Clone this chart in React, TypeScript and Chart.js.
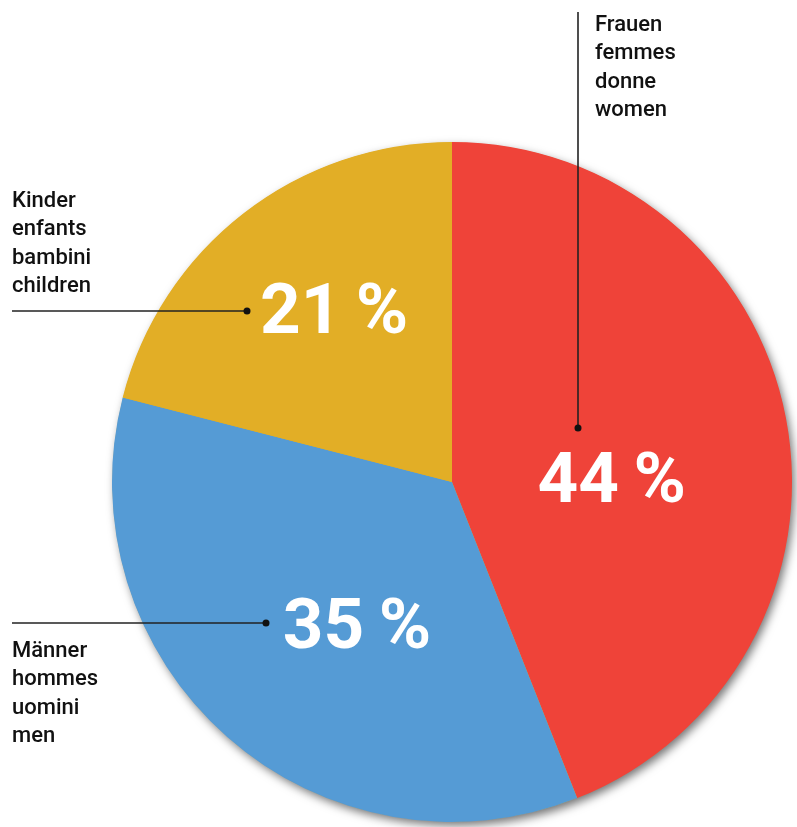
import React, { useEffect, useRef } from "react";
import { Chart, registerables } from "chart.js";
Chart.register(...registerables);

const categories = ["Frauen", "Männer", "Kinder"];
const values = [44, 35, 21];
const percentLabels = ["44\u2009%", "35\u2009%", "21\u2009%"];
const captions = [
  ["Frauen", "femmes", "donne", "women"],
  ["Männer", "hommes", "uomini", "men"],
  ["Kinder", "enfants", "bambini", "children"],
];
const colors = ["#EF4339", "#559BD5", "#E2AE26"];

// label placement: angle (deg clockwise from top) and radius fraction
const labelPolar = [
  [88, 0.47],
  [214, 0.5],
  [326, 0.62],
];

// leader lines: dot offset from pie centre, line end point, caption anchor
const leaders = [
  { dot: [126, -54], end: [126, -470], text: [143, -451] },
  { dot: [-186, 141], end: [-440, 141], text: [-440, 175] },
  { dot: [-205, -171], end: [-440, -171], text: [-440, -275] },
];

const LABEL_FONT = "Roboto, 'DejaVu Sans', sans-serif";

const overlayPlugin = {
  id: "overlay",
  beforeDatasetsDraw(chart: any) {
    const meta = chart.getDatasetMeta(0);
    const arc = meta.data[0];
    if (!arc) return;
    const { x, y, outerRadius } = arc.getProps(["x", "y", "outerRadius"], true);
    const ctx = chart.ctx;
    ctx.save();
    ctx.shadowColor = "rgba(0,0,0,0.55)";
    ctx.shadowBlur = 10;
    ctx.shadowOffsetX = 3;
    ctx.shadowOffsetY = 4;
    ctx.fillStyle = "#E2AE26";
    ctx.beginPath();
    ctx.arc(x, y, outerRadius - 0.5, 0, Math.PI * 2);
    ctx.fill();
    ctx.restore();
  },
  afterDatasetsDraw(chart: any) {
    const meta = chart.getDatasetMeta(0);
    const ctx = chart.ctx;
    const arc0 = meta.data[0];
    if (!arc0) return;
    const { x: cx, y: cy, outerRadius: R } = arc0.getProps(["x", "y", "outerRadius"], true);

    // percentage labels
    const size = 71;
    ctx.save();
    ctx.fillStyle = "#ffffff";
    ctx.font = `bold ${size}px ${LABEL_FONT}`;
    ctx.textAlign = "center";
    ctx.textBaseline = "alphabetic";
    meta.data.forEach((_: any, i: number) => {
      const [deg, frac] = labelPolar[i];
      const a = (deg * Math.PI) / 180;
      const px = cx + Math.sin(a) * R * frac;
      const py = cy - Math.cos(a) * R * frac;
      ctx.fillText(percentLabels[i], px, py + size * 0.36);
    });
    ctx.restore();

    // leader lines and captions
    ctx.save();
    leaders.forEach((l, i) => {
      const dx = cx + l.dot[0];
      const dy = cy + l.dot[1];
      const ex = cx + l.end[0];
      const ey = cy + l.end[1];
      ctx.strokeStyle = "#222222";
      ctx.lineWidth = 1.6;
      ctx.beginPath();
      ctx.moveTo(ex, ey);
      ctx.lineTo(dx, dy);
      ctx.stroke();
      ctx.fillStyle = "#111111";
      ctx.beginPath();
      ctx.arc(dx, dy, 3.5, 0, Math.PI * 2);
      ctx.fill();

      ctx.fillStyle = "#111111";
      ctx.font = `500 22px ${LABEL_FONT}`;
      ctx.textAlign = "left";
      ctx.textBaseline = "alphabetic";
      captions[i].forEach((t, j) => {
        ctx.fillText(t, cx + l.text[0], cy + l.text[1] + j * 28.3);
      });
    });
    ctx.restore();
  },
};

export default function App() {
  const ref = useRef<HTMLCanvasElement>(null);
  useEffect(() => {
    document.body.style.margin = "0";
    const canvas = ref.current!;
    const chart = new Chart(canvas, {
      type: "pie",
      data: {
        labels: categories,
        datasets: [
          {
            data: values,
            backgroundColor: colors,
            borderWidth: 0,
          },
        ],
      },
      options: {
        responsive: false,
        animation: false,
        layout: { padding: { left: 112, right: 5, top: 142, bottom: 5 } },
        plugins: {
          legend: { display: false },
          tooltip: { enabled: false },
        },
      },
      plugins: [overlayPlugin],
    });
    return () => chart.destroy();
  }, []);
  return (
    <div style={{ width: 797, height: 827, background: "#fff" }}>
      <canvas ref={ref} width={797} height={827} style={{ display: "block" }} />
    </div>
  );
}
